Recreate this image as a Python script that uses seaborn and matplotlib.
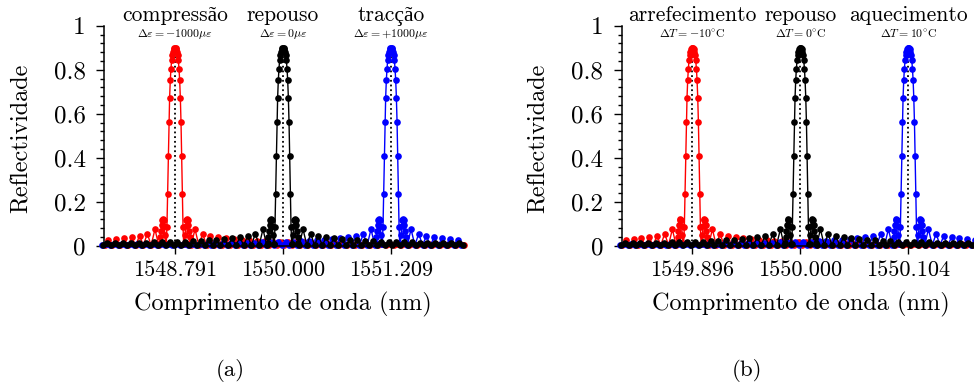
import matplotlib
matplotlib.use("Agg")
import matplotlib.pyplot as plt
import matplotlib.transforms as mtransforms
from matplotlib.ticker import MultipleLocator
import pandas as pd
import seaborn as sns

# peak centres (nm) used for both panels; panel (b) only relabels the ticks
centers = [1548.791, 1550.000, 1551.209]
conditions = ["menos", "repouso", "mais"]
colors = {"menos": "#ff0000", "repouso": "#000000", "mais": "#0000ff"}
draw_order = ["menos", "mais", "repouso"]

ticklabels_a = ["1548.791", "1550.000", "1551.209"]
titles_a = ["compressão", "repouso", "tracção"]
subtitles_a = [r"$\Delta\varepsilon = -1000\mu\varepsilon$",
               r"$\Delta\varepsilon = 0\mu\varepsilon$",
               r"$\Delta\varepsilon = +1000\mu\varepsilon$"]

ticklabels_b = ["1549.896", "1550.000", "1550.104"]
titles_b = ["arrefecimento", "repouso", "aquecimento"]
subtitles_b = [r"$\Delta T = -10^{\circ}\mathrm{C}$",
               r"$\Delta T = 0^{\circ}\mathrm{C}$",
               r"$\Delta T = 10^{\circ}\mathrm{C}$"]

# grating reflection spectrum (offset from peak in nm)
offset_nm = [
    -3.231, -3.188, -3.144, -3.100, -3.057, -3.013, -2.969, -2.926, -2.882, -2.839,
    -2.795, -2.751, -2.708, -2.664, -2.620, -2.577, -2.533, -2.490, -2.446, -2.402,
    -2.359, -2.315, -2.271, -2.228, -2.184, -2.140, -2.097, -2.053, -2.010, -1.966,
    -1.922, -1.879, -1.835, -1.791, -1.748, -1.704, -1.661, -1.617, -1.573, -1.530,
    -1.486, -1.442, -1.399, -1.355, -1.312, -1.268, -1.224, -1.181, -1.137, -1.094,
    -1.050, -1.006, -0.963, -0.919, -0.875, -0.832, -0.788, -0.745, -0.701, -0.657,
    -0.614, -0.570, -0.527, -0.483, -0.440, -0.396, -0.353, -0.310, -0.267, -0.224,
    -0.182,
    -0.1725, -0.165, -0.1575, -0.150, -0.1425, -0.135, -0.1275, -0.120, -0.1125, -0.105,
    -0.0975, -0.090, -0.0825, -0.075, -0.0675, -0.060, -0.0525, -0.045, -0.0375, -0.030,
    -0.0225, -0.015, -0.0075,
    0.0,
    0.0075, 0.015, 0.0225, 0.030, 0.0375, 0.045, 0.0525, 0.060, 0.0675, 0.075,
    0.0825, 0.090, 0.0975, 0.105, 0.1125, 0.120, 0.1275, 0.135, 0.1425, 0.150,
    0.1575, 0.165, 0.1725,
    0.182, 0.224, 0.267, 0.310, 0.353, 0.396, 0.440, 0.483, 0.527, 0.570,
    0.614, 0.657, 0.701, 0.745, 0.788, 0.832, 0.875, 0.919, 0.963, 1.006,
    1.050, 1.094, 1.137, 1.181, 1.224, 1.268, 1.312, 1.355, 1.399, 1.442,
    1.486, 1.530, 1.573, 1.617, 1.661, 1.704, 1.748, 1.791, 1.835, 1.879,
    1.922, 1.966, 2.010, 2.053, 2.097, 2.140, 2.184, 2.228, 2.271, 2.315,
    2.359, 2.402, 2.446, 2.490, 2.533, 2.577, 2.620, 2.664, 2.708, 2.751,
    2.795, 2.839, 2.882, 2.926, 2.969, 3.013, 3.057, 3.100, 3.144, 3.188,
    3.231,
]

refl = [
    0.002, 0.007, 0.002, 0.007, 0.002, 0.007, 0.002, 0.008, 0.002, 0.008,
    0.002, 0.008, 0.002, 0.008, 0.002, 0.009, 0.002, 0.009, 0.002, 0.009,
    0.002, 0.010, 0.002, 0.010, 0.002, 0.010, 0.002, 0.011, 0.002, 0.011,
    0.002, 0.012, 0.002, 0.012, 0.002, 0.013, 0.002, 0.013, 0.002, 0.014,
    0.002, 0.015, 0.002, 0.016, 0.002, 0.017, 0.002, 0.018, 0.002, 0.019,
    0.002, 0.020, 0.002, 0.022, 0.002, 0.024, 0.002, 0.026, 0.002, 0.029,
    0.002, 0.033, 0.002, 0.038, 0.002, 0.045, 0.002, 0.055, 0.002, 0.075,
    0.002,
    0.014, 0.038, 0.068, 0.095, 0.115, 0.122, 0.115, 0.090, 0.048, 0.010,
    0.008, 0.085, 0.236, 0.408, 0.561, 0.673, 0.752, 0.805, 0.843, 0.866,
    0.882, 0.892, 0.898,
    0.900,
    0.898, 0.892, 0.882, 0.866, 0.843, 0.805, 0.752, 0.673, 0.561, 0.408,
    0.236, 0.085, 0.008, 0.010, 0.048, 0.090, 0.115, 0.122, 0.115, 0.095,
    0.068, 0.038, 0.014,
    0.002, 0.075, 0.002, 0.055, 0.002, 0.045, 0.002, 0.038, 0.002, 0.033,
    0.002, 0.029, 0.002, 0.026, 0.002, 0.024, 0.002, 0.022, 0.002, 0.020,
    0.002, 0.019, 0.002, 0.018, 0.002, 0.017, 0.002, 0.016, 0.002, 0.015,
    0.002, 0.014, 0.002, 0.013, 0.002, 0.013, 0.002, 0.012, 0.002, 0.012,
    0.002, 0.011, 0.002, 0.011, 0.002, 0.010, 0.002, 0.010, 0.002, 0.010,
    0.002, 0.009, 0.002, 0.009, 0.002, 0.009, 0.002, 0.008, 0.002, 0.008,
    0.002, 0.008, 0.002, 0.008, 0.002, 0.007, 0.002, 0.007, 0.002, 0.007,
    0.002,
]
assert len(offset_nm) == len(refl)

XMIN, XMAX = 1548.0, 1552.0

rows = []
for cond, c in zip(conditions, centers):
    for o, r in zip(offset_nm, refl):
        rows.append({"condition": cond, "wavelength": c + o, "reflectivity": r})
df = pd.DataFrame(rows)
df = df[(df["wavelength"] >= XMIN - 0.03) & (df["wavelength"] <= XMAX + 0.03)]

sns.set_theme(style="ticks", rc={
    "axes.edgecolor": "black", "text.color": "black",
    "xtick.color": "black", "ytick.color": "black",
    "axes.labelcolor": "black",
})
plt.rcParams["font.family"] = ["cmr10", "Liberation Serif"]
plt.rcParams["mathtext.fontset"] = "cm"
plt.rcParams["axes.formatter.use_mathtext"] = True

fig = plt.figure(figsize=(9.74, 3.88), dpi=100)
W, H = 974.0, 388.0
ax_w, ax_h = 357.4 / W, 220.0 / H
ax_bottom = (H - 245.7) / H
ax_a = fig.add_axes([104.3 / W, ax_bottom, ax_w, ax_h])
ax_b = fig.add_axes([621.7 / W, ax_bottom, ax_w, ax_h])

panels = [
    (ax_a, ticklabels_a, titles_a, subtitles_a, "(a)", 230.0),
    (ax_b, ticklabels_b, titles_b, subtitles_b, "(b)", 747.0),
]

for ax, ticklabels, titles, subtitles, letter, letter_x in panels:
    ax.vlines(centers, 0, 0.9, colors="black", linestyles=(0, (1, 1.6)),
              linewidth=1.3, zorder=1)
    sns.lineplot(
        data=df, x="wavelength", y="reflectivity",
        hue="condition", hue_order=draw_order, palette=colors,
        marker="o", markersize=4.8, markeredgewidth=0,
        linewidth=1.0, sort=False, estimator=None, legend=False,
        clip_on=False, ax=ax,
    )

    ax.set_xlim(XMIN, XMAX)
    ax.set_ylim(0, 1)
    ax.set_xticks(centers)
    ax.set_xticklabels(ticklabels)
    ax.set_yticks([0, 0.2, 0.4, 0.6, 0.8, 1.0])
    ax.set_yticklabels(["0", "0.2", "0.4", "0.6", "0.8", "1"])
    ax.yaxis.set_minor_locator(MultipleLocator(0.04))
    ax.tick_params(axis="both", which="major", direction="out",
                   length=5.8, width=1.0)
    ax.tick_params(axis="y", which="major", pad=7.5, labelsize=18)
    ax.tick_params(axis="x", which="major", pad=4.5, labelsize=16)
    ax.tick_params(axis="y", which="minor", direction="out",
                   length=2.9, width=1.0)
    sns.despine(ax=ax)
    for sp in ("left", "bottom"):
        ax.spines[sp].set_linewidth(1.1)

    ax.set_xlabel("Comprimento de onda (nm)", fontsize=17.5)
    ax.xaxis.set_label_coords(0.5, -0.265)
    ax.xaxis.label.set_va("center")
    ax.set_ylabel("Reflectividade", fontsize=17.5)
    ax.yaxis.set_label_coords(-0.231, 0.49)
    ax.yaxis.label.set_va("center")

    trans = mtransforms.blended_transform_factory(ax.transData, ax.transAxes)
    for c, t, s in zip(centers, titles, subtitles):
        ax.text(c, 1.023, t, transform=trans, ha="center", va="baseline",
                fontsize=15.5, clip_on=False)
        ax.text(c, 0.947, s, transform=trans, ha="center", va="baseline",
                fontsize=8.5, clip_on=False)

    fig.text(letter_x / W, 1 - 370.0 / H, letter, ha="center", va="center",
             fontsize=16.5)

fig.savefig("out.png", dpi=100)
plt.close(fig)
